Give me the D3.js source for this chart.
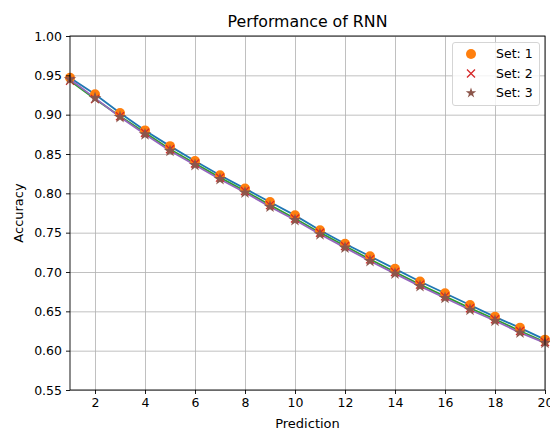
<!DOCTYPE html>
<html>
<head>
<meta charset="utf-8">
<script src="https://cdn.jsdelivr.net/npm/d3@7"></script>
<style>
  body { margin: 0; background: #fff; }
  svg { display: block; font-family: "DejaVu Sans", sans-serif; }
</style>
</head>
<body>
<svg id="chart" width="550" height="428"></svg>
<script>
// values
const steps = d3.range(1, 21)
const set1 = [0.947, 0.926, 0.902, 0.880, 0.860, 0.841, 0.823, 0.806, 0.789, 0.772,
              0.753, 0.736, 0.720, 0.704, 0.688, 0.673, 0.658, 0.643, 0.629, 0.614]
const set2 = [0.943, 0.920, 0.898, 0.877, 0.856, 0.838, 0.820, 0.803, 0.785, 0.768,
              0.750, 0.733, 0.716, 0.700, 0.684, 0.669, 0.654, 0.640, 0.625, 0.611]
const set3 = [0.945, 0.921, 0.897, 0.875, 0.854, 0.836, 0.818, 0.801, 0.783, 0.766,
              0.748, 0.731, 0.714, 0.698, 0.682, 0.667, 0.652, 0.638, 0.623, 0.610]
const xTicks = [2, 4, 6, 8, 10, 12, 14, 16, 18, 20]
const yTicks = [0.55, 0.60, 0.65, 0.70, 0.75, 0.80, 0.85, 0.90, 0.95, 1.00]
const setNames = ["Set: 1", "Set: 2", "Set: 3"]

const series = [
  { name: setNames[0], values: set1, line: "#1f77b4", mark: "#ff7f0e", shape: "circle" },
  { name: setNames[1], values: set2, line: "#2ca02c", mark: "#d62728", shape: "cross" },
  { name: setNames[2], values: set3, line: "#9467bd", mark: "#8c564b", shape: "star" }
]

const svg = d3.select("#chart")
const m = { left: 70, right: 545, top: 36, bottom: 390 }

const x = d3.scaleLinear().domain([1, 20]).range([m.left, m.right])
const y = d3.scaleLinear().domain([0.55, 1.0]).range([m.bottom, m.top])

// grid
svg.append("g")
  .attr("transform", `translate(0,${m.bottom})`)
  .call(d3.axisBottom(x).tickValues(xTicks).tickSize(-(m.bottom - m.top)).tickFormat(""))
  .call(g => g.select(".domain").remove())
  .call(g => g.selectAll("line").attr("stroke", "#b0b0b0").attr("stroke-width", 0.8))

svg.append("g")
  .attr("transform", `translate(${m.left},0)`)
  .call(d3.axisLeft(y).tickValues(yTicks).tickSize(-(m.right - m.left)).tickFormat(""))
  .call(g => g.select(".domain").remove())
  .call(g => g.selectAll("line").attr("stroke", "#b0b0b0").attr("stroke-width", 0.8))

const plot = svg.append("g")

const line = d3.line().x((d, i) => x(steps[i])).y(d => y(d))

series.forEach(s => {
  plot.append("path")
    .datum(s.values)
    .attr("fill", "none")
    .attr("stroke", s.line)
    .attr("stroke-width", 1.8)
    .attr("d", line)
})

const star = d3.symbol().type(d3.symbolStar).size(50)

function drawMark(g, s, cx, cy) {
  if (s.shape === "circle") {
    g.append("circle").attr("cx", cx).attr("cy", cy).attr("r", 5).attr("fill", s.mark)
  } else if (s.shape === "cross") {
    const r = 4
    g.append("path")
      .attr("d", `M${cx - r},${cy - r}L${cx + r},${cy + r}M${cx - r},${cy + r}L${cx + r},${cy - r}`)
      .attr("stroke", s.mark).attr("stroke-width", 1.3).attr("fill", "none")
  } else {
    g.append("path").attr("d", star()).attr("transform", `translate(${cx},${cy})`).attr("fill", s.mark)
  }
}

series.forEach(s => {
  s.values.forEach((v, i) => drawMark(plot, s, x(steps[i]), y(v)))
})

// axes
const xAxis = svg.append("g")
  .attr("transform", `translate(0,${m.bottom})`)
  .call(d3.axisBottom(x).tickValues(xTicks).tickSize(4).tickPadding(4))
const yAxis = svg.append("g")
  .attr("transform", `translate(${m.left},0)`)
  .call(d3.axisLeft(y).tickValues(yTicks).tickSize(4).tickPadding(4).tickFormat(d3.format(".2f")))

;[xAxis, yAxis].forEach(a => {
  a.select(".domain").remove()
  a.selectAll("text").attr("font-size", 12.5).attr("fill", "#000").attr("font-family", "DejaVu Sans")
  a.selectAll("line").attr("stroke", "#000").attr("stroke-width", 0.9)
})

svg.append("rect")
  .attr("x", m.left).attr("y", m.top)
  .attr("width", m.right - m.left).attr("height", m.bottom - m.top)
  .attr("fill", "none").attr("stroke", "#000").attr("stroke-width", 0.9)

// labels
svg.append("text")
  .attr("x", (m.left + m.right) / 2).attr("y", 27)
  .attr("text-anchor", "middle").attr("font-size", 15.8)
  .text("Performance of RNN")

svg.append("text")
  .attr("x", (m.left + m.right) / 2).attr("y", 428)
  .attr("text-anchor", "middle").attr("font-size", 13)
  .text("Prediction")

svg.append("text")
  .attr("transform", `translate(23,${(m.top + m.bottom) / 2}) rotate(-90)`)
  .attr("text-anchor", "middle").attr("font-size", 13)
  .text("Accuracy")

// legend
const legend = svg.append("g")
legend.append("rect")
  .attr("x", 452.5).attr("y", 42.5).attr("width", 87).attr("height", 63).attr("rx", 2.5)
  .attr("fill", "#fff").attr("fill-opacity", 0.8)
  .attr("stroke", "#d0d0d0").attr("stroke-width", 0.9)

series.forEach((s, i) => {
  const ly = 54 + i * 19.5
  if (s.shape === "star") {
    legend.append("path").attr("d", d3.symbol().type(d3.symbolStar).size(34)())
      .attr("transform", `translate(471,${ly})`).attr("fill", s.mark)
  } else {
    drawMark(legend, s, 471, ly)
  }
  legend.append("text")
    .attr("x", 496).attr("y", ly).attr("dy", "0.35em")
    .attr("font-size", 12.5)
    .text(s.name)
})
</script>
</body>
</html>
